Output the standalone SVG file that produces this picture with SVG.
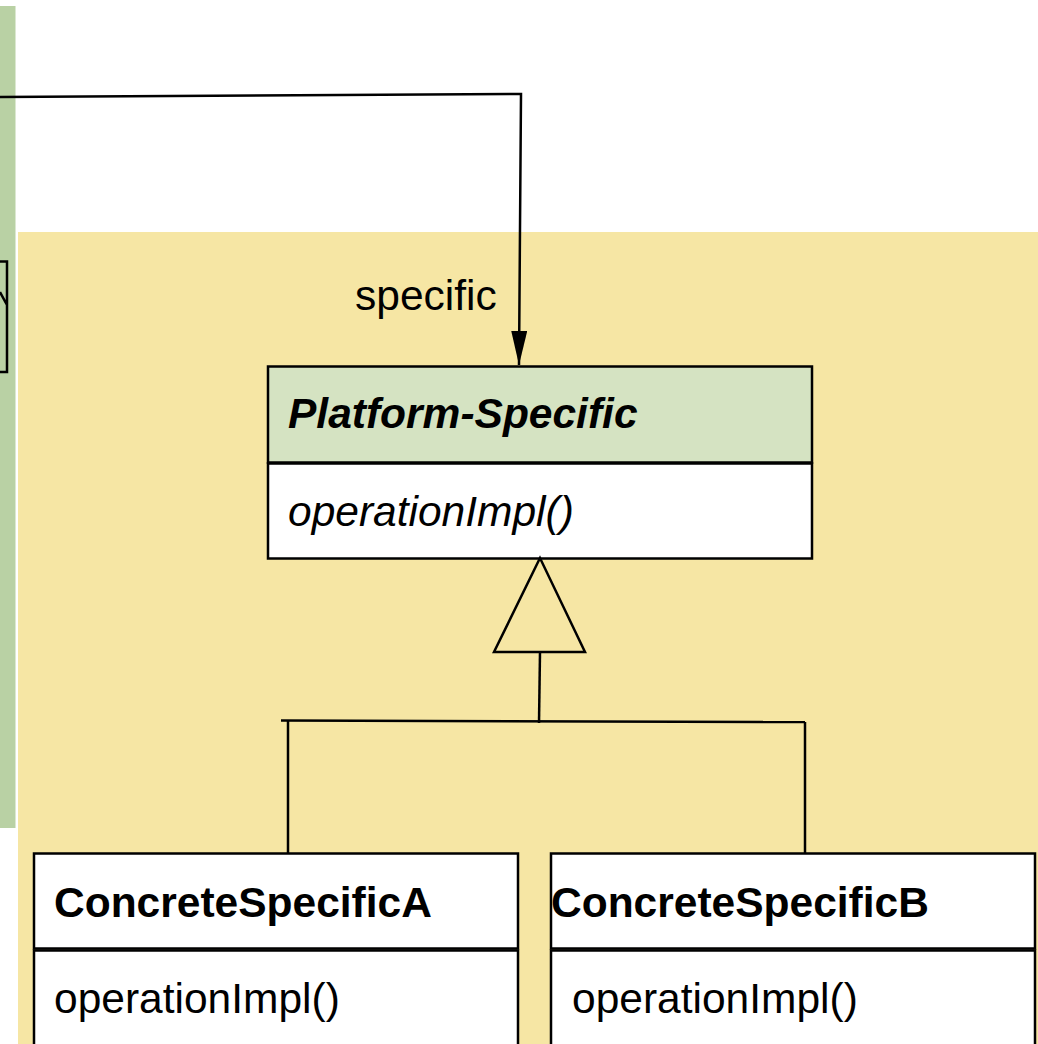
<svg xmlns="http://www.w3.org/2000/svg" width="1038" height="1044" viewBox="0 0 1038 1044">
<style>
.t{font-family:"Liberation Sans",Arial,sans-serif;font-size:42.5px;fill:#000}
.b{font-weight:bold}
.i{font-style:italic}
.box{stroke:#000;stroke-width:2.5}
.ln{stroke:#000;stroke-width:2.5;fill:none}
</style>
<defs>
<marker id="arr" markerWidth="34" markerHeight="16" refX="34" refY="8" orient="auto" markerUnits="userSpaceOnUse" viewBox="0 0 34 16">
<path d="M0,0 L34,8 L0,16 Z" fill="#000"/>
</marker>
</defs>
<rect width="1038" height="1044" fill="#fff"/>
<g id="left-region">
<rect x="0" y="6" width="15.5" height="822" fill="#b9d1a4"/>
<path d="M0,261.5 H7 V372 H0 M0,292 L7,305" class="ln"/>
</g>
<g id="platform-region">
<rect x="18" y="232" width="1020" height="812" fill="#f6e6a4"/>
</g>
<g id="platform-specific">
<rect x="268" y="366.5" width="544" height="96" fill="#d5e3c2" class="box"/>
<rect x="268" y="463.5" width="544" height="95" fill="#fff" class="box"/>
<text x="288" y="428" class="t b i">Platform-Specific</text>
<text x="288" y="526" class="t i">operationImpl()</text>
</g>
<g id="concrete-specific-a">
<rect x="34" y="853.5" width="484" height="95" fill="#fff" class="box"/>
<rect x="34" y="950.5" width="484" height="100" fill="#fff" class="box"/>
<text x="54" y="917" class="t b">ConcreteSpecificA</text>
<text x="54" y="1013" class="t">operationImpl()</text>
</g>
<g id="concrete-specific-b">
<rect x="551" y="853.5" width="484" height="95" fill="#fff" class="box"/>
<rect x="551" y="950.5" width="484" height="100" fill="#fff" class="box"/>
<text x="551" y="917" class="t b">ConcreteSpecificB</text>
<text x="572" y="1013" class="t">operationImpl()</text>
</g>
<g id="connectors">
<path d="M0,97 L521,94 L519,365" class="ln" marker-end="url(#arr)"/>
<text x="355" y="310" class="t">specific</text>
<path d="M540,558 L494,652 L585,652 Z" class="ln"/>
<path d="M540,652 L539,723" class="ln"/>
<path d="M281,720.5 L805,722" class="ln"/>
<path d="M288,720.5 V853" class="ln"/>
<path d="M805,722 V853" class="ln"/>
</g>
</svg>
